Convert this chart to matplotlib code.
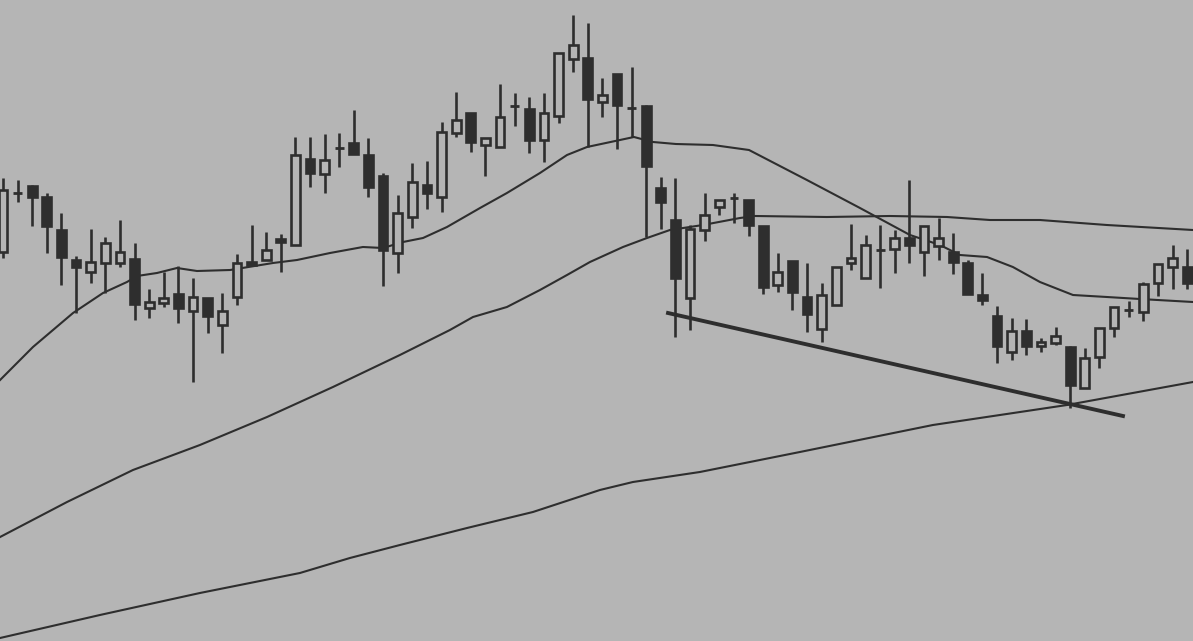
import numpy as np
import matplotlib
matplotlib.use("Agg")
import matplotlib.pyplot as plt

# daily candles (price units), one per trading day
opens = [389, 448, 455, 444, 411, 381, 369, 378, 378, 382,
         333, 338, 347, 330, 343, 316, 344, 379, 381, 402,
         396, 482, 467, 493, 498, 486, 465, 388, 424, 456,
         444, 508, 528, 496, 494, 535, 532, 501, 525, 582,
         583, 539, 567, 533, 535, 453, 421, 343, 411, 434,
         443, 441, 415, 356, 380, 344, 312, 336, 378, 363,
         391, 392, 403, 389, 395, 389, 378, 346, 325, 289,
         310, 295, 298, 294, 253, 284, 313, 331, 329, 358,
         374, 374]
highs = [463, 461, 456, 448, 428, 385, 412, 404, 421, 398,
         352, 369, 375, 363, 343, 348, 387, 416, 409, 407,
         504, 504, 507, 508, 531, 503, 468, 446, 478, 480,
         519, 549, 528, 503, 557, 548, 544, 548, 588, 626,
         618, 563, 567, 574, 536, 464, 463, 416, 448, 441,
         448, 441, 415, 388, 380, 378, 358, 374, 417, 406,
         416, 411, 461, 415, 423, 408, 381, 368, 335, 323,
         322, 303, 314, 295, 293, 313, 334, 340, 359, 377,
         396, 392]
lows = [383, 439, 415, 388, 356, 328, 358, 348, 374, 321,
        323, 334, 318, 259, 308, 288, 336, 375, 381, 369,
        396, 454, 448, 474, 487, 444, 355, 368, 413, 432,
        429, 504, 489, 465, 494, 515, 488, 479, 518, 569,
        494, 524, 492, 504, 404, 412, 304, 311, 400, 426,
        418, 405, 347, 349, 331, 309, 299, 336, 371, 363,
        353, 368, 378, 365, 381, 367, 347, 336, 278, 281,
        286, 289, 296, 233, 253, 273, 304, 324, 320, 345,
        352, 352]
closes = [451, 448, 444, 415, 384, 374, 379, 398, 389, 337,
          339, 343, 333, 344, 325, 330, 378, 376, 391, 399,
          486, 468, 481, 493, 487, 454, 391, 428, 459, 448,
          509, 521, 499, 503, 524, 535, 501, 528, 588, 596,
          542, 546, 536, 533, 475, 439, 363, 412, 426, 441,
          443, 416, 354, 369, 349, 327, 346, 374, 383, 396,
          391, 403, 396, 415, 403, 379, 347, 341, 295, 310,
          295, 299, 305, 256, 283, 313, 334, 331, 357, 377,
          383, 358]

ma_short_day = [-0.2, 2.05, 4.79, 6.84, 8.48, 9.17, 10.53, 11.9, 13.27, 15.53,
                18.47, 20.11, 22.37, 24.62, 25.99, 27.36, 28.73, 30.37, 32.63, 34.47,
                36.73, 38.58, 39.95, 42.2, 43.16, 44.46, 46.03, 48.56, 51.03, 54.99,
                58.62, 62.04, 64.09, 65.46, 67.31, 69.08, 70.93, 73.19, 75.51, 77.77, 81.4]
ma_short = [261, 294, 328, 348, 359, 365, 368, 373, 370, 371,
            378, 381, 388, 394, 393, 399, 403, 414, 433, 448,
            468, 486, 494, 501, 504, 499, 497, 496, 491, 461,
            433, 406, 396, 386, 384, 374, 359, 346, 344, 342, 339]

ma_mid_day = [-0.2, 4.38, 8.89, 13.47, 18.06, 22.57, 27.15, 30.57, 32.15, 34.47,
              36.73, 38.58, 40.15, 42.41, 44.05, 45.62, 47.88, 50.41, 51.44, 56.36,
              60.67, 64.57, 67.51, 70.93, 75.51, 81.4]
ma_mid = [104, 139, 171, 196, 224, 254, 286, 311, 324, 334,
          351, 366, 379, 394, 403, 411, 416, 423, 425, 424,
          425, 424, 421, 421, 416, 411]

ma_long_day = [-0.2, 6.63, 13.47, 20.31, 23.73, 27.15, 31.74, 36.25, 40.83, 43.09,
               47.67, 51.09, 54.51, 63.61, 72.78, 81.4]
ma_long = [3, 26, 48, 68, 83, 96, 113, 129, 151, 159,
           169, 179, 189, 216, 236, 259]

# hand-drawn support line
trend_day = [45.49, 76.61]
trend_val = [328, 225]

bg = "#b5b5b5"
ink = "#2e2e2e"

fig = plt.figure(figsize=(11.93, 6.41), dpi=100, facecolor=bg)
ax = fig.add_axes([0, 0, 1, 1], facecolor=bg)

days = np.arange(len(opens))
o = np.array(opens, float)
c = np.array(closes, float)
up = c > o
w = 0.6

ax.vlines(days, lows, highs, color=ink, lw=1.9, zorder=2)

bottom = np.minimum(o, c)
height = np.abs(c - o)
for d, b, h, u in zip(days, bottom, height, up):
    if h == 0:
        ax.hlines(b, d - w / 2, d + w / 2, color=ink, lw=2.0, zorder=3)
        continue
    h = max(h, 3)
    ax.bar(d, h, bottom=b, width=w, facecolor=bg if u else ink,
           edgecolor=ink, linewidth=1.9, zorder=3)

ax.plot(ma_short_day, ma_short, color=ink, lw=1.5, zorder=1)
ax.plot(ma_mid_day, ma_mid, color=ink, lw=1.5, zorder=1)
ax.plot(ma_long_day, ma_long, color=ink, lw=1.5, zorder=1)
ax.plot(trend_day, trend_val, color=ink, lw=2.8, zorder=4)

ax.set_xlim(-0.205, 81.4)
ax.set_ylim(0, 641)
ax.axis("off")

fig.savefig("out.png", dpi=100, facecolor=bg)
